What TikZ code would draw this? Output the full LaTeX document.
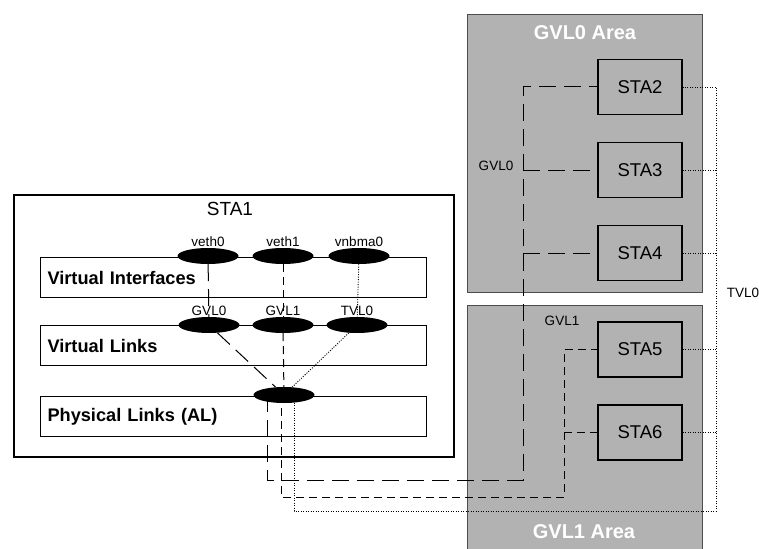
\documentclass[tikz,border=0pt]{standalone}
\usepackage{fontspec}
\setmainfont{Liberation Sans}
\usetikzlibrary{shapes.geometric,positioning,calc}

\begin{document}
\begin{tikzpicture}[x=1pt, y=-1pt, node distance=0pt, font=\fontsize{13.5}{15}\selectfont]
\tikzstyle{layer}=[draw, line width=1pt, anchor=north west, minimum width=386pt, minimum height=40pt, text width=372pt, inner xsep=7pt, align=left, font=\fontsize{18.2}{20}\selectfont\bfseries]
\tikzstyle{iface}=[ellipse, fill=black, minimum width=61pt, minimum height=16pt, inner sep=0pt]
\tikzstyle{ifname}=[inner sep=1pt]
\tikzstyle{sta}=[draw, line width=1.6pt, minimum width=84pt, minimum height=55pt, font=\fontsize{18.5}{20}\selectfont]
\tikzstyle{area}=[fill=black!30, draw=black!70, line width=1.4pt, anchor=north west]
\tikzstyle{areatitle}=[text=white, font=\fontsize{20}{22}\selectfont\bfseries]
\tikzstyle{gvlzero}=[line width=1pt, dash pattern=on 17pt off 8pt]
\tikzstyle{gvlone}=[line width=1pt, dash pattern=on 8pt off 5pt]
\tikzstyle{tvlzero}=[line width=0.9pt, dash pattern=on 1pt off 1.5pt]

\useasboundingbox (0,0) rectangle (759,548);

% the two areas
\node[area, minimum width=235pt, minimum height=278pt] (area0) at (467,14) {};
\node[areatitle] (area0title) at (585,33) {GVL0 Area};
\node[area, minimum width=235pt, minimum height=260pt] (area1) at (467,305) {};
\node[areatitle] (area1title) at (584,532) {GVL1 Area};

% STA1 and its layers
\node[draw, line width=2pt, anchor=north west, minimum width=440pt, minimum height=262pt] (sta1) at (13,194) {};
\node[font=\fontsize{19}{20}\selectfont] (sta1title) at (230,209) {STA1};
\node[layer] (vif) at (40,257) {Virtual Interfaces};
\node[layer] (vlink) at (40,325) {Virtual Links};
\node[layer] (phylink) at (40,396) {Physical Links (AL)};

\node[iface] (veth0) at (208,256) {};
\node[iface] (veth1) at (283,256) {};
\node[iface] (vnbma0) at (359,256) {};
\node[iface] (gvl0) at (209,325) {};
\node[iface] (gvl1) at (283,325) {};
\node[iface] (tvl0) at (357,325) {};
\node[iface] (phy) at (284,395) {};
\node[ifname, above=of veth0] (veth0lbl) {veth0};
\node[ifname, above=of veth1] (veth1lbl) {veth1};
\node[ifname, above=of vnbma0] (vnbma0lbl) {vnbma0};
\node[ifname, above=of gvl0] (gvl0lbl) {GVL0};
\node[ifname, above=of gvl1] (gvl1lbl) {GVL1};
\node[ifname, above=of tvl0] (tvl0lbl) {TVL0};

% the other stations
\node[sta] (sta2) at (640,87) {STA2};
\node[sta] (sta3) at (640,170) {STA3};
\node[sta] (sta4) at (640,253) {STA4};
\node[sta] (sta5) at (640,349.5) {STA5};
\node[sta] (sta6) at (640,432.5) {STA6};

\node (gvl0name) at (496,166) {GVL0};
\node (gvl1name) at (562,321) {GVL1};
\node (tvl0name) at (743,293) {TVL0};

% links inside STA1
\draw[gvlzero] (veth0) -- (gvl0);
\draw[gvlone] (veth1) -- (gvl1);
\draw[tvlzero] (vnbma0) -- (tvl0);
\draw[gvlzero] (gvl0) -- (phy);
\draw[gvlone] (gvl1) -- (phy);
\draw[tvlzero] (tvl0) -- (phy);

% links out to the areas
\coordinate (gz) at (523,480);
\coordinate (go) at (564,497);
\coordinate (tz) at (716,511);
\draw[gvlzero] ([xshift=-17pt]phy.center) |- (gz) |- (sta2.west);
\draw[gvlzero] (sta3.west -| gz) -- (sta3.west);
\draw[gvlzero] (sta4.west -| gz) -- (sta4.west);
\draw[gvlone] ([xshift=-3pt]phy.center) |- (go) |- (sta5.west);
\draw[gvlone] (sta6.west -| go) -- (sta6.west);
\draw[tvlzero] ([xshift=10pt]phy.center) |- (tz) |- (sta2.east);
\foreach \s in {sta3,sta4,sta5,sta6}
  \draw[tvlzero] (\s.east) -- (\s.east -| tz);
\end{tikzpicture}
\end{document}
